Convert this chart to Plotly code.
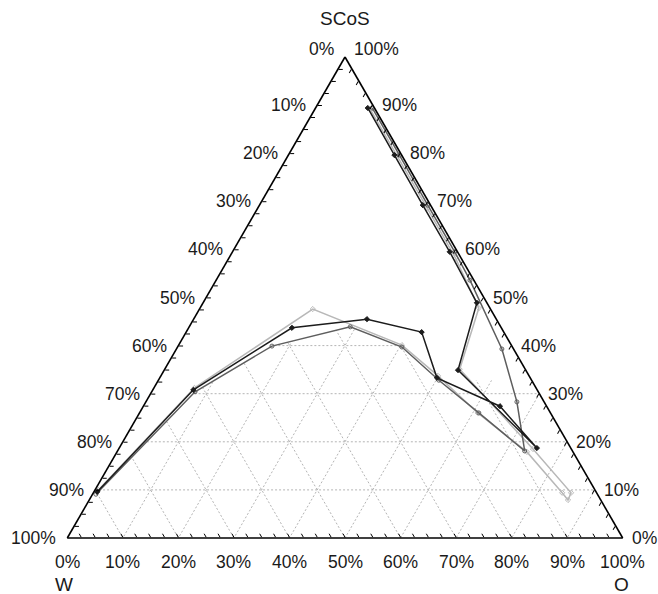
import plotly.graph_objects as go

# Phase-boundary series in mass % (SCoS, W, O), listed in measurement order
scos_1 = [9.6, 30.8, 43.7, 45.5, 42.8, 33.3, 27.4, 18.7, 34.9, 48.9, 59.5, 69.2, 79.6, 89.4]
w_1    = [89.8, 61.9, 37.7, 23.3, 14.8, 16.8, 8.4, 6.1, 12.2, 1.8, 1.4, 1.4, 1.3, 1.2]
o_1    = [0.6, 7.3, 18.6, 31.2, 42.4, 49.9, 64.2, 75.2, 52.9, 49.3, 39.1, 29.4, 19.1, 9.4]

scos_2 = [9.1, 30.4, 39.9, 43.9, 39.7, 32.8, 26.0, 18.1, 28.3, 39.3, 53.6, 59.5, 69.2, 79.6, 89.4]
w_2    = [90.3, 61.8, 43.2, 27.1, 19.9, 16.7, 12.9, 8.6, 4.9, 2.1, 0.7, 0.5, 0.5, 0.4, 0.4]
o_2    = [0.6, 7.8, 16.9, 29.0, 40.4, 50.5, 61.1, 73.3, 66.8, 58.6, 45.7, 40.0, 30.3, 20.0, 10.2]

scos_3 = [10.0, 31.2, 47.6, 40.1, 33.7, 26.0, 17.9, 9.4, 7.9, 9.4, 18.5, 35.1, 47.8, 58.2, 68.6, 79.6, 89.0]
w_3    = [89.4, 61.5, 32.0, 19.7, 16.4, 13.1, 8.3, 6.2, 5.9, 4.6, 6.9, 11.8, 2.0, 1.0, 0.9, 0.9, 0.9]
o_3    = [0.6, 7.3, 20.4, 40.2, 49.9, 60.9, 73.8, 84.4, 86.2, 86.0, 74.6, 53.1, 50.2, 40.8, 30.5, 19.5, 10.1]

# Axis ticks every 2.5 %, labels and grid every 10 %
tick_vals = [i * 2.5 for i in range(41)]
label_levels = [0, 10, 20, 30, 40, 50, 60, 70, 80, 90, 100]
grid_levels = [10, 20, 30, 40, 50, 60, 70, 80, 90]

FONT = "Liberation Sans, Arial, sans-serif"
TXT = "#1a1a1a"

W_PX, H_PX = 658, 594
M = dict(l=67, r=35, t=57, b=56)
PW, PH = W_PX - M["l"] - M["r"], H_PX - M["t"] - M["b"]

# triangle geometry in page pixels (equilateral, fitted in the plot area)
SIDE = min(PW, PH * 2 / 3 ** 0.5)
HGT = SIDE * 3 ** 0.5 / 2
X0 = M["l"] + (PW - SIDE) / 2
Y0 = M["t"] + (PH + HGT) / 2


def paper(x, y):
    return (x - M["l"]) / PW, 1 - (y - M["t"]) / PH


fig = go.Figure()

# dotted 10 % grid, one line per constant SCoS / W / O level
ga, gb, gc = [], [], []
for k in grid_levels:
    ga += [k, k, None]; gb += [100 - k, 0, None]; gc += [0, 100 - k, None]
    ga += [100 - k, 0, None]; gb += [k, k, None]; gc += [0, 100 - k, None]
    ga += [100 - k, 0, None]; gb += [0, 100 - k, None]; gc += [k, k, None]
fig.add_trace(go.Scatterternary(a=ga, b=gb, c=gc, mode="lines",
                                line=dict(color="#b4b4b4", width=1, dash="2px,2px"),
                                hoverinfo="skip", showlegend=False))

# the grid is only kept inside the two-phase region below the lowest boundary
n_top = 6
mask_a = [100, scos_2[0]] + scos_2[:n_top] + [scos_2[n_top - 1], 100]
mask_b = [0, 100 - scos_2[0]] + w_2[:n_top] + [0, 0]
mask_c = [0, 0] + o_2[:n_top] + [100 - scos_2[n_top - 1], 0]
fig.add_trace(go.Scatterternary(a=mask_a, b=mask_b, c=mask_c, mode="lines",
                                fill="toself", fillcolor="white",
                                line=dict(color="rgba(0,0,0,0)", width=0),
                                hoverinfo="skip", showlegend=False))

series = [
    (scos_3, w_3, o_3, "#b8b8b8", "diamond-open"),
    (scos_2, w_2, o_2, "#5e5e5e", "circle-open"),
    (scos_1, w_1, o_1, "#1c1c1c", "diamond"),
]
for a, b, c, col, sym in series:
    fig.add_trace(go.Scatterternary(
        a=a, b=b, c=c, mode="lines+markers",
        line=dict(color=col, width=1.5),
        marker=dict(symbol=sym, size=4, color=col, line=dict(color=col, width=1)),
        showlegend=False))


def axis():
    return dict(
        title=dict(text=""),
        tickmode="array", tickvals=tick_vals,
        ticks="inside", ticklen=4, tickwidth=1, tickcolor="black",
        showticklabels=False,
        linecolor="black", linewidth=1.6, showgrid=False, min=0,
    )


# tick labels: W along the left side, O along the base, SCoS along the right side
ann = []
lab_font = dict(family=FONT, size=17.5, color=TXT)
for v in label_levels:
    f = v / 100
    # left side: position by SCoS level, text gives W
    x, y = X0 + f * SIDE / 2, Y0 - f * HGT
    if v == 100:
        y -= 8
    px, py = paper(x - 9, y)
    ann.append(dict(x=px, y=py, text=f"{100 - v}%", xanchor="right", yanchor="middle",
                    showarrow=False, font=lab_font))
    # right side: SCoS
    x, y = X0 + SIDE - f * SIDE / 2, Y0 - f * HGT
    if v == 100:
        y -= 8
    px, py = paper(x + 7, y)
    ann.append(dict(x=px, y=py, text=f"{v}%", xanchor="left", yanchor="middle",
                    showarrow=False, font=lab_font))
    # base: O
    x, y = X0 + f * SIDE, Y0
    px, py = paper(x, y + 24)
    ann.append(dict(x=px, y=py, text=f"{v}%", xanchor="center", yanchor="middle",
                    showarrow=False, font=lab_font))

title_font = dict(family=FONT, size=19, color=TXT)
for text, (x, y) in [("SCoS", (X0 + SIDE / 2, 19)), ("W", (X0 - 3, 584)), ("O", (X0 + SIDE - 1, 584))]:
    px, py = paper(x, y)
    ann.append(dict(x=px, y=py, text=text, xanchor="center", yanchor="middle",
                    showarrow=False, font=title_font))

fig.update_layout(
    width=W_PX, height=H_PX,
    margin=M,
    paper_bgcolor="white",
    ternary=dict(sum=100, bgcolor="white",
                 aaxis=axis(), baxis=axis(), caxis=axis()),
    annotations=ann,
    font=dict(family=FONT, color=TXT),
)

fig.write_html("out.html")
